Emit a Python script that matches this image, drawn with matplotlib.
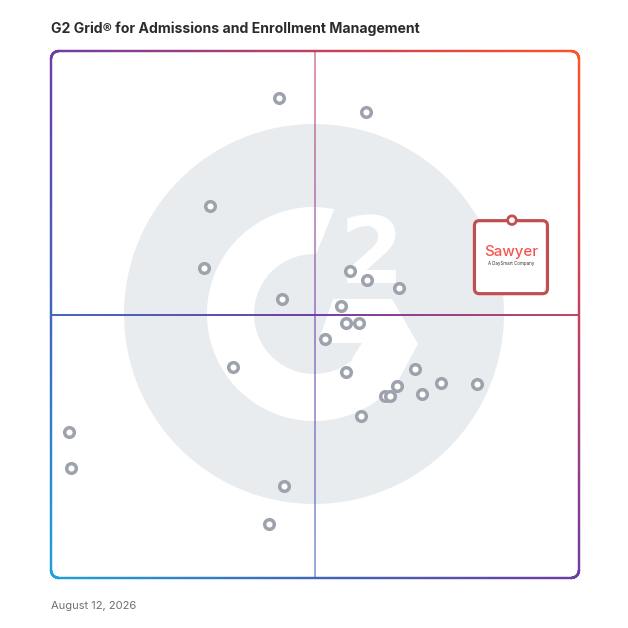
import numpy as np
import matplotlib.pyplot as plt
import matplotlib.transforms as mtransforms
from matplotlib.collections import LineCollection
from matplotlib.colors import LinearSegmentedColormap
from matplotlib.patches import Circle, Wedge, Polygon, FancyBboxPatch

# vendor positions (x = satisfaction, y = market presence), 0..100 scale
sat = [43.1, 59.6, 30.2, 28.9, 43.8, 56.6, 59.9, 65.9, 55.0, 55.9, 58.4, 51.8, 34.5,
       55.8, 68.9, 65.6, 73.8, 80.6, 70.3, 63.3, 64.2, 58.7, 3.5, 3.7, 44.2, 41.2]
presence = [91.1, 88.4, 70.6, 58.8, 52.9, 58.3, 56.6, 55.1, 51.6, 48.4, 48.4, 45.3, 40.0,
            39.1, 39.7, 36.4, 37.0, 36.8, 34.9, 34.5, 34.5, 30.7, 27.7, 20.9, 17.5, 10.2]

# highlighted vendor
sawyer_sat = 87.3
sawyer_presence = 67.9

title = "G2 Grid\u00ae for Admissions and Enrollment Management"
date_text = "August 12, 2026"

W = 628
L, R, B, T = 51, 579, 50, 577  # frame in pixels (y up)

grad = LinearSegmentedColormap.from_list(
    "g2", [(0, "#1ea0dc"), (0.25, "#3f66bc"), (0.5, "#6e3ca6"), (0.75, "#c4405e"), (1, "#ff5226")])

def grad_t(x, y):
    return ((x - L) / (R - L) + (y - B) / (T - B)) / 2

fig = plt.figure(figsize=(6.28, 6.28), dpi=100)
fig.patch.set_facecolor("white")

# background layer in pixel units
bg = fig.add_axes([0, 0, 1, 1], zorder=0)
bg.set_xlim(0, W)
bg.set_ylim(0, W)
bg.axis("off")

# G2 watermark
cx, cy = 314, 314
bg.add_patch(Circle((cx, cy), 190, color="#e9ecef", lw=0))
bg.add_patch(Wedge((cx, cy), 107, 88, 310, width=47, color="white", lw=0))
a1, a2 = np.radians(88), np.radians(79)
bg.add_patch(Polygon([(cx + 60 * np.cos(a1), cy + 60 * np.sin(a1)),
                      (cx + 107 * np.cos(a1), cy + 107 * np.sin(a1)),
                      (cx + 107 * np.cos(a2), cy + 107 * np.sin(a2))], color="white", lw=0))
chev = [(333, 299), (392, 299), (418, 344), (385, 405), (352, 359), (362, 343), (318, 343)]
bg.add_patch(Polygon([(x, W - y) for x, y in chev], color="white", lw=0))
bg.text(372, W - 283, "2", color="white", fontsize=66, fontweight="bold",
        family="DejaVu Sans", ha="center", va="baseline")

# rounded gradient frame
rad = 8
pts = []
corners = [(R - rad, T - rad, 0), (L + rad, T - rad, 90), (L + rad, B + rad, 180), (R - rad, B + rad, 270)]
for ccx, ccy, a0 in corners:
    th = np.radians(np.linspace(a0, a0 + 90, 30))
    pts.append(np.column_stack([ccx + rad * np.cos(th), ccy + rad * np.sin(th)]))
path = np.vstack(pts + [pts[0][:1]])
dense = []
for p, q in zip(path[:-1], path[1:]):
    n = max(2, int(np.hypot(*(q - p)) / 2))
    dense.append(np.linspace(p, q, n, endpoint=False))
dense = np.vstack(dense + [path[-1:]])
segs = np.stack([dense[:-1], dense[1:]], axis=1)
mid = segs.mean(axis=1)
bg.add_collection(LineCollection(segs, colors=grad(grad_t(mid[:, 0], mid[:, 1])),
                                 linewidths=1.7, capstyle="round"))

# quadrant lines
xm = L + 0.5 * (R - L)
ym = B + 0.5 * (T - B)
hx = np.linspace(L, R, 300)
hseg = np.stack([np.column_stack([hx[:-1], np.full(299, ym)]), np.column_stack([hx[1:], np.full(299, ym)])], axis=1)
bg.add_collection(LineCollection(hseg, colors=grad(grad_t(hseg.mean(axis=1)[:, 0], ym)), linewidths=1.4))
vy = np.linspace(B, T, 300)
vseg = np.stack([np.column_stack([np.full(299, xm), vy[:-1]]), np.column_stack([np.full(299, xm), vy[1:]])], axis=1)
bg.add_collection(LineCollection(vseg, colors=grad(grad_t(xm, vseg.mean(axis=1)[:, 1])), linewidths=1.4, alpha=0.55))

# data axes
ax = fig.add_axes([L / W, B / W, (R - L) / W, (T - B) / W], zorder=1)
ax.set_xlim(0, 100)
ax.set_ylim(0, 100)
ax.patch.set_visible(False)
ax.axis("off")

ax.scatter(sat, presence, s=48, facecolor="white", edgecolor="#9ea2ad", linewidths=2.5, zorder=3, clip_on=False)

# Sawyer card, offsets in pixels around its data point
pix = mtransforms.Affine2D().scale(fig.dpi / 100) + mtransforms.ScaledTranslation(sawyer_sat, sawyer_presence, ax.transData)
ax.add_patch(FancyBboxPatch((-37.5, -73.5), 73, 73, boxstyle="round,pad=0,rounding_size=5",
                            facecolor="white", edgecolor="#c0504f", lw=2.3, transform=pix, zorder=4))
ax.add_patch(Circle((0, 0), 4.3, facecolor="white", edgecolor="#c0504f", lw=2.0, transform=pix, zorder=5))
ax.text(-1, -36, "Sawyer", color="#f5554e", fontsize=10.8, fontweight="medium", family="Inter",
        ha="center", va="baseline", transform=pix, zorder=5)
ax.text(-1, -44.5, "A DaySmart Company", color="#333333", fontsize=3.2, family="Inter",
        ha="center", va="baseline", transform=pix, zorder=5)

fig.text(L / W, 1 - 33 / W, title, fontsize=10.1, fontweight="bold", family="Inter",
         color="#2b2b2b", ha="left", va="baseline")
fig.text(L / W, 1 - 609 / W, date_text, fontsize=8, family="Inter", color="#6f6f6f",
         ha="left", va="baseline")

fig.savefig("out.png", dpi=100)
